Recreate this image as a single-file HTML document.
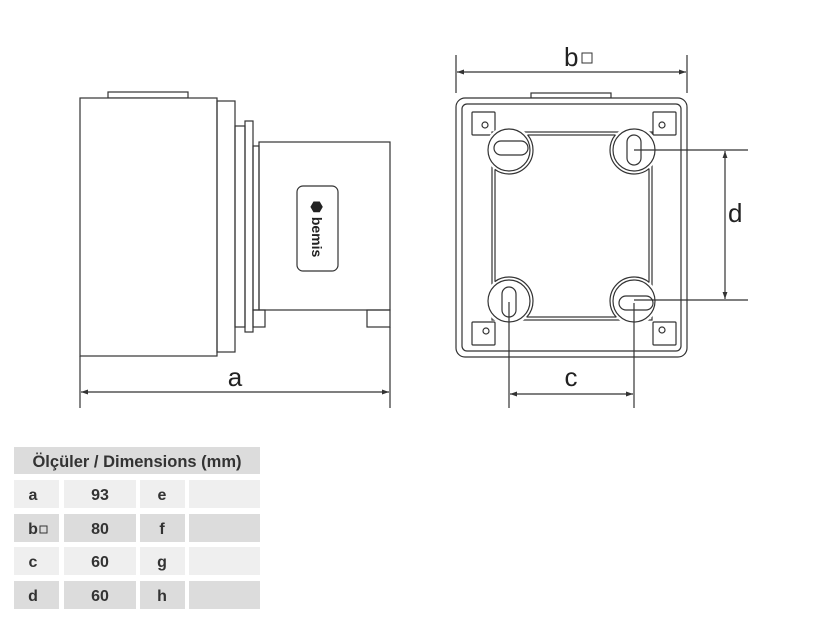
<!DOCTYPE html>
<html><head><meta charset="utf-8"><style>
body{margin:0;background:#fff;width:825px;height:619px;overflow:hidden;font-family:"Liberation Sans",sans-serif}
</style></head><body>
<svg width="825" height="619" viewBox="0 0 825 619" xmlns="http://www.w3.org/2000/svg" style="position:absolute;left:0;top:0">
<defs>
<marker id="ar" viewBox="0 0 10 10" refX="10" refY="5" markerWidth="9" markerHeight="7" orient="auto-start-reverse" markerUnits="userSpaceOnUse"><path d="M0,1.5 L10,5 L0,8.5 z" fill="#333"/></marker>
<clipPath id="ic"><rect x="495" y="135" width="154" height="182"/></clipPath>
</defs>
<g fill="none" stroke="#333" stroke-width="1.2">
<!-- left view -->
<rect x="108" y="92" width="80" height="6" fill="#fff"/>
<rect x="80" y="98" width="137" height="258" fill="#fff"/>
<rect x="217" y="101" width="18" height="251"/>
<rect x="235" y="126" width="10" height="201"/>
<rect x="245" y="121" width="8" height="211"/>
<rect x="253" y="146" width="6" height="164"/>
<rect x="253" y="310" width="12" height="17"/>
<rect x="259" y="142" width="131" height="168"/>
<rect x="367" y="310" width="23" height="17"/>
<rect x="297" y="186" width="41" height="85" rx="6"/>
<line x1="80" y1="356" x2="80" y2="408"/>
<line x1="390" y1="327" x2="390" y2="408"/>
<line x1="81" y1="392" x2="389" y2="392" marker-start="url(#ar)" marker-end="url(#ar)"/>
<!-- right view -->
<rect x="531" y="93" width="80" height="5" fill="#fff"/>
<rect x="456" y="98" width="231" height="259" rx="9" fill="#fff"/>
<rect x="462" y="104" width="219" height="247" rx="5"/>
<rect x="472" y="112" width="23" height="23" rx="1"/><circle cx="485" cy="125" r="3"/>
<rect x="653" y="112" width="23" height="23" rx="1"/><circle cx="662" cy="125" r="3"/>
<rect x="472" y="322" width="23" height="23" rx="1"/><circle cx="486" cy="331" r="3"/>
<rect x="653" y="322" width="23" height="23" rx="1"/><circle cx="662" cy="330" r="3"/>
<!-- frame -->
<rect x="492" y="132" width="160" height="188"/>
<rect x="495" y="135" width="154" height="182"/>
<g fill="#fff" stroke="none">
<circle cx="509" cy="150" r="24"/><circle cx="634" cy="150" r="24"/>
<circle cx="509" cy="301" r="24"/><circle cx="634" cy="301" r="24"/>
</g>
<g clip-path="url(#ic)">
<circle cx="509" cy="150" r="24"/><circle cx="634" cy="150" r="24"/>
<circle cx="509" cy="301" r="24"/><circle cx="634" cy="301" r="24"/>
</g>
<g fill="#fff">
<circle cx="509" cy="150" r="21"/><circle cx="634" cy="150" r="21"/>
<circle cx="509" cy="301" r="21"/><circle cx="634" cy="301" r="21"/>
</g>
<rect x="494" y="141" width="34" height="14" rx="7"/>
<rect x="627" y="135" width="14" height="30" rx="7"/>
<rect x="502" y="287" width="14" height="30" rx="7"/>
<rect x="619" y="296" width="34" height="14" rx="7"/>
<!-- dims -->
<line x1="456" y1="55" x2="456" y2="93"/>
<line x1="687" y1="55" x2="687" y2="93"/>
<line x1="457" y1="72" x2="686" y2="72" marker-start="url(#ar)" marker-end="url(#ar)"/>
<line x1="634" y1="150" x2="748" y2="150"/>
<line x1="634" y1="300" x2="748" y2="300"/>
<line x1="725" y1="151" x2="725" y2="299" marker-start="url(#ar)" marker-end="url(#ar)"/>
<line x1="509" y1="302" x2="509" y2="408"/>
<line x1="634" y1="303" x2="634" y2="408"/>
<line x1="510" y1="394" x2="633" y2="394" marker-start="url(#ar)" marker-end="url(#ar)"/>
<rect x="582" y="53" width="10" height="10" stroke-width="1"/>
</g>
<g fill="#222" font-size="26">
<text x="235" y="386" text-anchor="middle">a</text>
<text x="564" y="66">b</text>
<text x="728" y="222">d</text>
<text x="571" y="386" text-anchor="middle">c</text>
</g>
<g transform="translate(317,229) rotate(90)">
<text x="0" y="5" text-anchor="middle" font-size="14" font-weight="bold" fill="#222">⬢ bemis</text>
</g>
<!-- table -->
<rect x="14" y="447" width="246" height="27" fill="#dcdcdc"/>
<text x="137" y="467" text-anchor="middle" font-size="16.5" font-weight="bold" fill="#333">Ölçüler / Dimensions (mm)</text>
<g font-size="16" fill="#333" text-anchor="middle" font-weight="bold">
<g fill="#efefef"><rect x="14" y="480" width="45" height="28"/><rect x="64" y="480" width="72" height="28"/><rect x="140" y="480" width="45" height="28"/><rect x="189" y="480" width="71" height="28"/>
<rect x="14" y="547" width="45" height="28"/><rect x="64" y="547" width="72" height="28"/><rect x="140" y="547" width="45" height="28"/><rect x="189" y="547" width="71" height="28"/></g>
<g fill="#dcdcdc"><rect x="14" y="514" width="45" height="28"/><rect x="64" y="514" width="72" height="28"/><rect x="140" y="514" width="45" height="28"/><rect x="189" y="514" width="71" height="28"/>
<rect x="14" y="581" width="45" height="28"/><rect x="64" y="581" width="72" height="28"/><rect x="140" y="581" width="45" height="28"/><rect x="189" y="581" width="71" height="28"/></g>
<text x="33" y="500">a</text><text x="100" y="500">93</text><text x="162" y="500">e</text>
<text x="33" y="534">b</text><rect x="40" y="526" width="7" height="7" fill="none" stroke="#333" stroke-width="1"/><text x="100" y="534">80</text><text x="162" y="534">f</text>
<text x="33" y="567">c</text><text x="100" y="567">60</text><text x="162" y="567">g</text>
<text x="33" y="601">d</text><text x="100" y="601">60</text><text x="162" y="601">h</text>
</g>
</svg>
</body></html>
